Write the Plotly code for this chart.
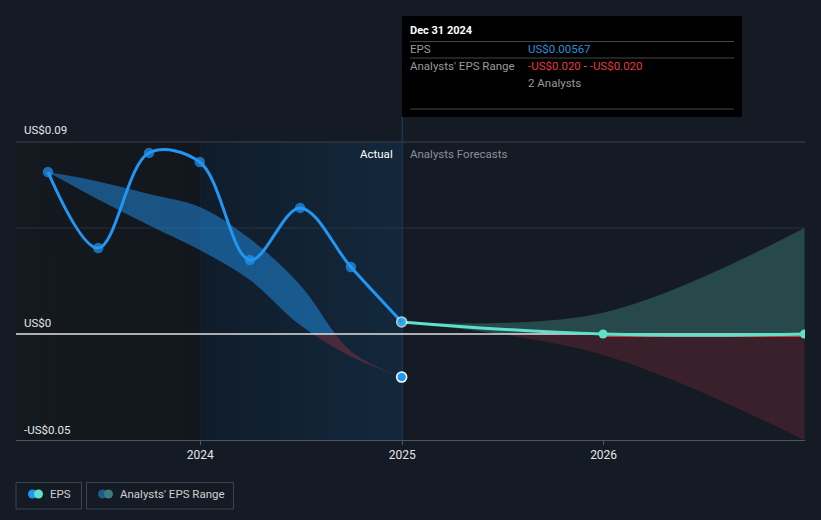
import plotly.graph_objects as go

# ---------------- data ----------------
eps_dates = ["2023-03-31", "2023-06-30", "2023-09-30", "2023-12-31",
             "2024-03-31", "2024-06-30", "2024-09-30", "2024-12-31"]
eps_values = [0.0759, 0.0403, 0.0849, 0.0806, 0.0347, 0.0591, 0.0314, 0.00567]

past_range_upper = [0.0759, 0.0715, 0.0656, 0.0595, 0.0446, 0.0230, -0.0080, -0.0202]
past_range_lower = [0.0759, 0.0630, 0.0510, 0.0394, 0.0253, 0.0042, -0.0106, -0.0202]

fc_dates = ["2024-12-31", "2025-12-31", "2026-12-31"]
fc_eps = [0.00567, 0.0, 0.0]
fc_upper = [0.00567, 0.0100, 0.0497]
fc_lower = [0.00567, -0.0098, -0.0497]
fc_low_line_dates = ["2025-12-31", "2026-12-31"]
fc_low_line = [-0.0009, -0.0009]

range_end_date = ["2024-12-31"]
range_end_value = [-0.0202]

x_ticks = ["2024-01-01", "2025-01-01", "2026-01-01"]
x_tick_labels = ["2024", "2025", "2026"]
y_labels = ["US$0.09", "US$0", "-US$0.05"]
y_grid_values = [0.0497]

# ---------------- layout constants ----------------
W, H = 821, 520
L, R, T, B = 16, 16, 142, 80
PW, PH = W - L - R, H - T - B
YMIN, YMAX = -0.0497, 0.09
XMIN, XMAX = "2023-02-01", "2027-01-01"
BG = "rgb(21,27,36)"
FONT = "Roboto"
zero_frac = (0 - YMIN) / (YMAX - YMIN)


def px(x):
    return (x - L) / PW


def py(y):
    return (H - B - y) / PH


fig = go.Figure()

# background regions (main subplot)
fig.add_trace(go.Scatter(
    x=[XMIN, "2024-01-01", "2024-01-01", XMIN], y=[YMIN, YMIN, YMAX, YMAX],
    fill="toself", mode="lines", line=dict(width=0),
    fillgradient=dict(type="horizontal",
                      colorscale=[[0, "rgb(20,25,32)"], [1, "rgb(18,22,29)"]]),
    hoverinfo="skip", showlegend=False))
fig.add_trace(go.Scatter(
    x=["2024-01-01", "2025-01-01", "2025-01-01", "2024-01-01"], y=[YMIN, YMIN, YMAX, YMAX],
    fill="toself", mode="lines", line=dict(width=0),
    fillgradient=dict(type="horizontal",
                      colorscale=[[0, "rgb(16,28,42)"], [1, "rgb(19,40,60)"]]),
    hoverinfo="skip", showlegend=False))
for gv in y_grid_values:
    fig.add_trace(go.Scatter(x=[XMIN, XMAX], y=[gv, gv], mode="lines",
                             line=dict(color="rgba(90,95,105,0.35)", width=1),
                             hoverinfo="skip", showlegend=False))

# below-zero fills (y2)
fig.add_trace(go.Scatter(x=eps_dates, y=past_range_lower, mode="lines",
                         line=dict(width=0, shape="spline"), yaxis="y2",
                         hoverinfo="skip", showlegend=False))
fig.add_trace(go.Scatter(x=eps_dates, y=past_range_upper, mode="lines",
                         line=dict(width=0, shape="spline"), yaxis="y2", fill="tonexty",
                         fillcolor="rgba(220,60,80,0.27)", hoverinfo="skip", showlegend=False))
fig.add_trace(go.Scatter(x=fc_dates, y=fc_lower, mode="lines",
                         line=dict(width=0, shape="spline"), yaxis="y2",
                         hoverinfo="skip", showlegend=False))
fig.add_trace(go.Scatter(x=fc_dates, y=fc_upper, mode="lines",
                         line=dict(width=0, shape="spline"), yaxis="y2", fill="tonexty",
                         fillcolor="rgba(220,60,70,0.19)", hoverinfo="skip", showlegend=False))

# above-zero fills (y3)
fig.add_trace(go.Scatter(x=eps_dates, y=past_range_lower, mode="lines",
                         line=dict(width=0, shape="spline"), yaxis="y3",
                         hoverinfo="skip", showlegend=False))
fig.add_trace(go.Scatter(x=eps_dates, y=past_range_upper, mode="lines",
                         line=dict(width=0, shape="spline"), yaxis="y3", fill="tonexty",
                         fillcolor="rgba(33,150,243,0.48)", hoverinfo="skip", showlegend=False))
fig.add_trace(go.Scatter(x=fc_dates, y=fc_lower, mode="lines",
                         line=dict(width=0, shape="spline"), yaxis="y3",
                         hoverinfo="skip", showlegend=False))
fig.add_trace(go.Scatter(x=fc_dates, y=fc_upper, mode="lines",
                         line=dict(width=0, shape="spline"), yaxis="y3", fill="tonexty",
                         fillcolor="rgba(90,200,180,0.27)", hoverinfo="skip", showlegend=False))

# lines (y4)
fig.add_trace(go.Scatter(x=[XMIN, XMAX], y=[0, 0], mode="lines",
                         line=dict(color="rgba(235,235,235,0.95)", width=1.5), yaxis="y4",
                         hoverinfo="skip", showlegend=False))
fig.add_trace(go.Scatter(x=fc_low_line_dates, y=fc_low_line, mode="lines",
                         line=dict(color="#d23a3a", width=2), yaxis="y4",
                         hoverinfo="skip", showlegend=False))
fig.add_trace(go.Scatter(x=fc_dates, y=fc_eps, mode="lines+markers",
                         line=dict(color="#5fe0c8", width=3, shape="spline", smoothing=1.3),
                         marker=dict(size=9, color="#5fe0c8"), yaxis="y4",
                         hoverinfo="skip", showlegend=False))
fig.add_trace(go.Scatter(x=eps_dates, y=eps_values, mode="lines+markers",
                         line=dict(color="#2196f3", width=3, shape="spline"),
                         marker=dict(size=[9] * 7 + [10], color="#2196f3",
                                     line=dict(color=["#2196f3"] * 7 + ["#ffffff"], width=1.5)),
                         yaxis="y4", hoverinfo="skip", showlegend=False))
fig.add_trace(go.Scatter(x=range_end_date, y=range_end_value, mode="markers",
                         marker=dict(size=10, color="#2196f3", line=dict(color="#ffffff", width=1.5)),
                         yaxis="y4", hoverinfo="skip", showlegend=False))

shapes = []
# top gridline
shapes.append(dict(type="line", xref="paper", yref="paper", x0=0, x1=1, y0=py(142), y1=py(142),
                   line=dict(color="rgb(60,65,74)", width=1), layer="above"))
# vertical edges of the highlighted year
shapes.append(dict(type="line", xref="x", yref="paper", x0="2024-01-01", x1="2024-01-01",
                   y0=0, y1=1, line=dict(color="rgba(40,80,120,0.45)", width=1), layer="below"))
shapes.append(dict(type="line", xref="x", yref="paper", x0="2025-01-01", x1="2025-01-01",
                   y0=0, y1=py(115), line=dict(color="rgb(30,70,105)", width=1), layer="below"))
# tooltip box
shapes.append(dict(type="rect", xref="paper", yref="paper", x0=px(402), x1=px(742),
                   y0=py(117), y1=py(16), fillcolor="#000000", line=dict(width=0), layer="above"))
for yy in (41.5, 58, 109):
    shapes.append(dict(type="line", xref="paper", yref="paper", x0=px(410), x1=px(734),
                       y0=py(yy), y1=py(yy), line=dict(color="rgb(70,70,70)", width=1), layer="above"))
# legend boxes
for (x0, x1) in ((16, 81.5), (86.5, 233.5)):
    shapes.append(dict(type="rect", xref="paper", yref="paper", x0=px(x0), x1=px(x1),
                       y0=py(509), y1=py(482.5), fillcolor="rgba(0,0,0,0)",
                       line=dict(color="rgb(62,68,78)", width=1)))
for (cx, col) in ((32.5, "#2196f3"), (38.5, "#5fe0c8"), (102.5, "#1f5a8c"), (108.5, "#3d7e79")):
    r = 4.5
    shapes.append(dict(type="circle", xref="paper", yref="paper",
                       x0=px(cx - r), x1=px(cx + r), y0=py(494 + r), y1=py(494 - r),
                       fillcolor=col, line=dict(width=0)))

ann = []


def text(t, x, y, color, size=11, anchor="left"):
    shift = -2 if anchor == "left" else 2
    ann.append(dict(text=t, xref="paper", yref="paper",
                    x=px(x + shift), y=py(y), xanchor=anchor, yanchor="middle", showarrow=False,
                    font=dict(family=FONT, size=size, color=color)))


for lbl, y in zip(y_labels, (130, 323, 430)):
    text(lbl, 24, y, "#e6e6e6", 11.5)
text("Actual", 393, 154, "#ffffff", 11.5, "right")
text("Analysts Forecasts", 410, 154, "#8a8f98", 11.5, "left")
# tooltip
text("<b>Dec 31 2024</b>", 410, 31, "#ffffff", 11)
text("EPS", 410, 49, "#9a9a9a", 11.5)
text("US$0.00567", 528, 49, "#2b8fd8", 11.5)
text("Analysts' EPS Range", 410, 66, "#9a9a9a", 11.5)
text("<span style='color:#e03c3c'>-US$0.020</span> - <span style='color:#e03c3c'>-US$0.020</span>",
     528, 66, "#9a9a9a", 11.5)
text("2 Analysts", 528, 83, "#9a9a9a", 11.5)
# legend
text("EPS", 50, 494, "#d0d0d0", 11.5)
text("Analysts' EPS Range", 120, 494, "#d0d0d0", 11.5)

hidden_y = dict(showgrid=False, zeroline=False, showticklabels=False, showline=False, ticks="",
                fixedrange=True)

fig.update_layout(
    width=W, height=H,
    margin=dict(l=L, r=R, t=T, b=B),
    paper_bgcolor=BG, plot_bgcolor="rgba(0,0,0,0)",
    hovermode=False,
    showlegend=False,
    font=dict(family=FONT, color="#e6e6e6"),
    xaxis=dict(range=[XMIN, XMAX], type="date", anchor="y",
               tickvals=x_ticks, ticktext=x_tick_labels, ticks="outside", ticklen=4,
               tickcolor="rgb(80,85,94)", tickfont=dict(family=FONT, size=12, color="#e6e6e6"),
               showgrid=False, zeroline=False, showline=True, linecolor="rgb(80,85,94)", linewidth=1),
    yaxis=dict(range=[YMIN, YMAX], domain=[0, 1], anchor="x", **hidden_y),
    yaxis2=dict(range=[YMIN, 0], domain=[0, zero_frac], anchor="x", **hidden_y),
    yaxis3=dict(range=[0, YMAX], domain=[zero_frac, 1], anchor="x", **hidden_y),
    yaxis4=dict(range=[YMIN, YMAX], domain=[0, 1], anchor="x", **hidden_y),
    shapes=shapes,
    annotations=ann,
)

fig.write_html("out.html", config={"displayModeBar": False},
               post_script="document.body.style.margin='0';document.body.style.overflow='hidden';"
                           "document.body.style.background='rgb(21,27,36)';")
